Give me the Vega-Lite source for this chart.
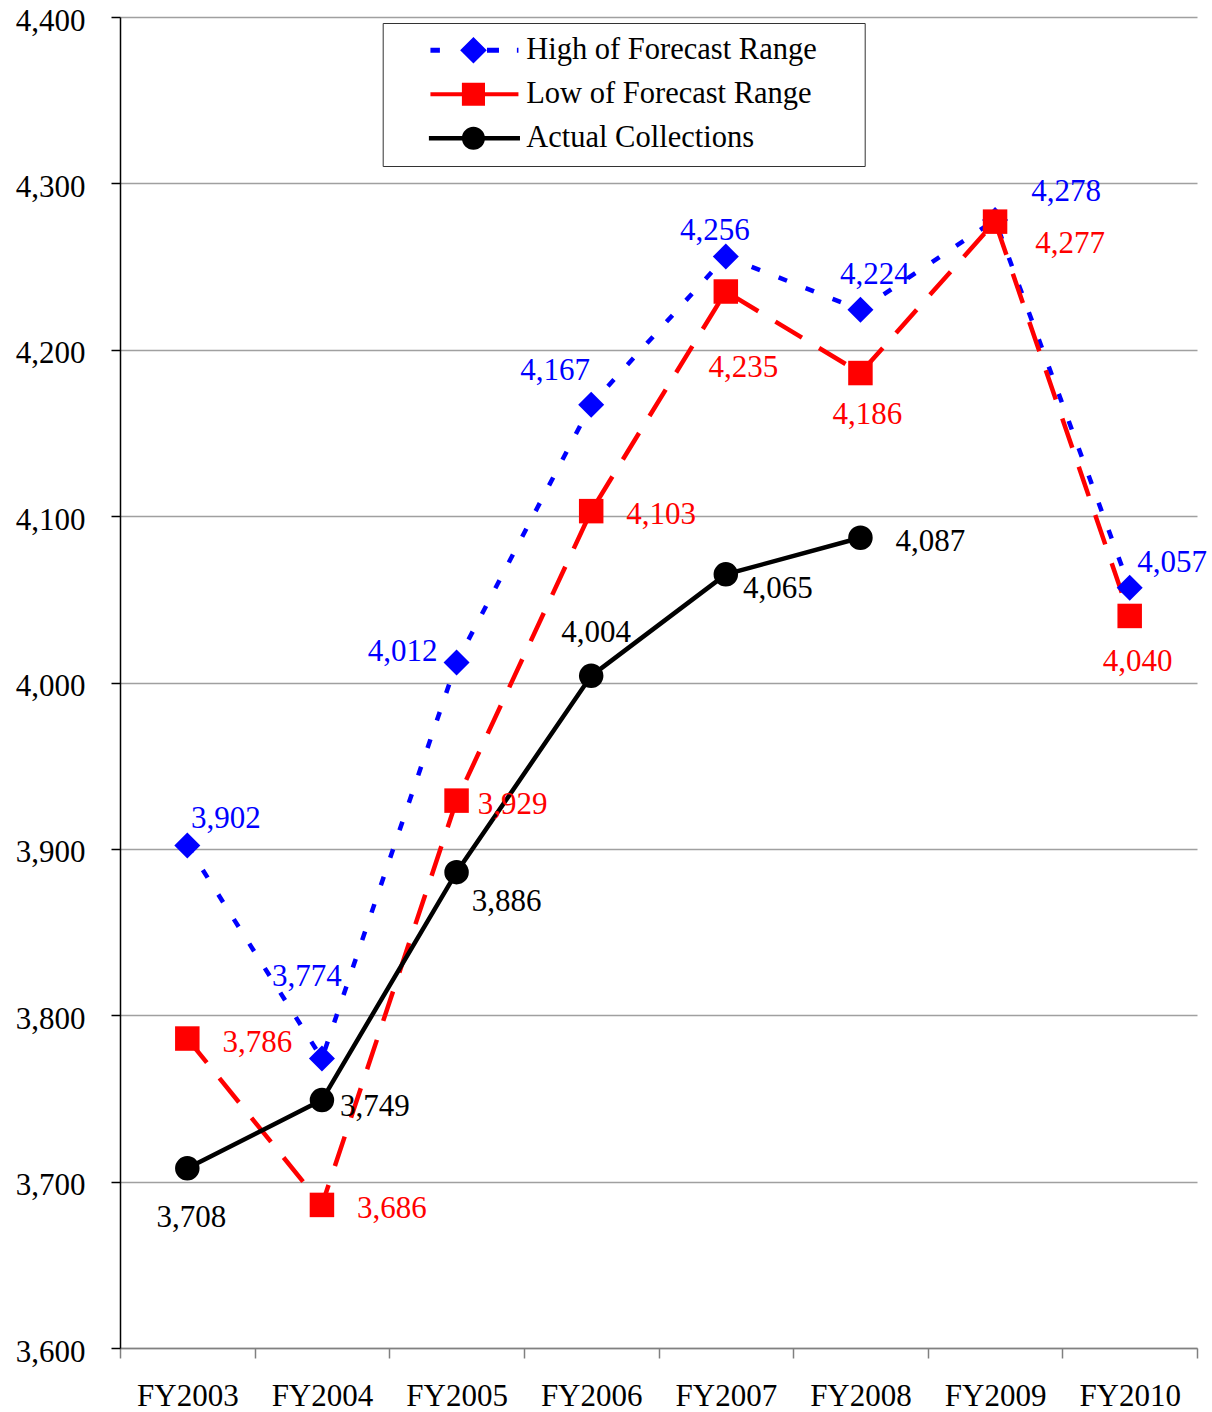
{
  "$schema": "https://vega.github.io/schema/vega-lite/v6.json",
  "width": 1077,
  "height": 1331,
  "autosize": {"type": "none"},
  "padding": {"left": 120, "top": 17, "right": 15, "bottom": 64},
  "background": "white",
  "config": {"view": {"stroke": null}, "font": "Liberation Serif"},
  "data": {
    "values": [
      {"year": "FY2003", "series": "High of Forecast Range", "value": 3902},
      {"year": "FY2004", "series": "High of Forecast Range", "value": 3774},
      {"year": "FY2005", "series": "High of Forecast Range", "value": 4012},
      {"year": "FY2006", "series": "High of Forecast Range", "value": 4167},
      {"year": "FY2007", "series": "High of Forecast Range", "value": 4256},
      {"year": "FY2008", "series": "High of Forecast Range", "value": 4224},
      {"year": "FY2009", "series": "High of Forecast Range", "value": 4278},
      {"year": "FY2010", "series": "High of Forecast Range", "value": 4057},
      {"year": "FY2003", "series": "Low of Forecast Range", "value": 3786},
      {"year": "FY2004", "series": "Low of Forecast Range", "value": 3686},
      {"year": "FY2005", "series": "Low of Forecast Range", "value": 3929},
      {"year": "FY2006", "series": "Low of Forecast Range", "value": 4103},
      {"year": "FY2007", "series": "Low of Forecast Range", "value": 4235},
      {"year": "FY2008", "series": "Low of Forecast Range", "value": 4186},
      {"year": "FY2009", "series": "Low of Forecast Range", "value": 4277},
      {"year": "FY2010", "series": "Low of Forecast Range", "value": 4040},
      {"year": "FY2003", "series": "Actual Collections", "value": 3708},
      {"year": "FY2004", "series": "Actual Collections", "value": 3749},
      {"year": "FY2005", "series": "Actual Collections", "value": 3886},
      {"year": "FY2006", "series": "Actual Collections", "value": 4004},
      {"year": "FY2007", "series": "Actual Collections", "value": 4065},
      {"year": "FY2008", "series": "Actual Collections", "value": 4087}
    ]
  },
  "encoding": {
    "x": {
      "field": "year", "type": "nominal",
      "scale": {"type": "band", "paddingInner": 0, "paddingOuter": 0},
      "axis": {"title": null, "tickBand": "extent", "domainColor": "#808080", "domainWidth": 1.5, "tickColor": "#808080", "tickWidth": 1.5, "tickSize": 10, "labelFont": "Liberation Serif", "labelFontSize": 31, "labelColor": "black", "labelPadding": 23, "labelAngle": 0, "grid": false}
    },
    "y": {
      "field": "value", "type": "quantitative",
      "scale": {"domain": [3600, 4400], "nice": false, "zero": false},
      "axis": {"title": null, "values": [3600, 3700, 3800, 3900, 4000, 4100, 4200, 4300, 4400], "format": ",.0f", "domainColor": "black", "domainWidth": 1.5, "tickColor": "black", "tickWidth": 1.5, "tickSize": 9, "labelFont": "Liberation Serif", "labelFontSize": 31, "labelColor": "black", "labelPadding": 26, "labelOffset": 4, "grid": true, "gridColor": "#A0A0A0", "gridWidth": 1.5}
    }
  },
  "layer": [
    {
      "transform": [{"filter": "datum.series=='High of Forecast Range'"}],
      "mark": {"type": "line", "strokeWidth": 4.5, "color": "#0000FF", "strokeDash": [9, 20]}
    },
    {
      "transform": [{"filter": "datum.series=='Low of Forecast Range'"}],
      "mark": {"type": "line", "strokeWidth": 4.5, "color": "#FF0000", "strokeDash": [31, 20]}
    },
    {
      "transform": [{"filter": "datum.series=='Actual Collections'"}],
      "mark": {"type": "line", "strokeWidth": 4.5, "color": "#000000"}
    },
    {
      "transform": [{"filter": "datum.series=='High of Forecast Range'"}],
      "mark": {"type": "point", "shape": "diamond", "filled": true, "size": 676, "color": "#0000FF", "opacity": 1}
    },
    {
      "transform": [{"filter": "datum.series=='Low of Forecast Range'"}],
      "mark": {"type": "point", "shape": "square", "filled": true, "size": 600, "color": "#FF0000", "opacity": 1}
    },
    {
      "transform": [{"filter": "datum.series=='Actual Collections'"}],
      "mark": {"type": "point", "shape": "circle", "filled": true, "size": 600, "color": "#000000", "opacity": 1}
    },
    {
      "transform": [{"filter": "(datum.series=='Low of Forecast Range' && (datum.year=='FY2003' || datum.year=='FY2004' || datum.year=='FY2006')) || (datum.series=='Actual Collections' && datum.year=='FY2008')"}],
      "mark": {"type": "text", "font": "Liberation Serif", "fontSize": 31, "align": "center", "baseline": "middle", "dx": 70, "dy": 4},
      "encoding": {"text": {"field": "value", "type": "quantitative", "format": ","}, "color": {"condition": [{"test": "datum.series=='High of Forecast Range'", "value": "#0000FF"}, {"test": "datum.series=='Low of Forecast Range'", "value": "#FF0000"}], "value": "#000000"}}
    },
    {
      "transform": [{"filter": "datum.series=='High of Forecast Range' && datum.year=='FY2003'"}],
      "mark": {"type": "text", "font": "Liberation Serif", "fontSize": 31, "align": "center", "baseline": "middle", "dx": 38.5, "dy": -26.5, "color": "#0000FF"},
      "encoding": {"text": {"field": "value", "type": "quantitative", "format": ","}}
    },
    {
      "transform": [{"filter": "datum.series=='High of Forecast Range' && datum.year=='FY2004'"}],
      "mark": {"type": "text", "font": "Liberation Serif", "fontSize": 31, "align": "center", "baseline": "middle", "dx": -15, "dy": -81.5, "color": "#0000FF"},
      "encoding": {"text": {"field": "value", "type": "quantitative", "format": ","}}
    },
    {
      "transform": [{"filter": "datum.series=='High of Forecast Range' && datum.year=='FY2005'"}],
      "mark": {"type": "text", "font": "Liberation Serif", "fontSize": 31, "align": "center", "baseline": "middle", "dx": -54, "dy": -11, "color": "#0000FF"},
      "encoding": {"text": {"field": "value", "type": "quantitative", "format": ","}}
    },
    {
      "transform": [{"filter": "datum.series=='High of Forecast Range' && datum.year=='FY2006'"}],
      "mark": {"type": "text", "font": "Liberation Serif", "fontSize": 31, "align": "center", "baseline": "middle", "dx": -36, "dy": -34, "color": "#0000FF"},
      "encoding": {"text": {"field": "value", "type": "quantitative", "format": ","}}
    },
    {
      "transform": [{"filter": "datum.series=='High of Forecast Range' && datum.year=='FY2007'"}],
      "mark": {"type": "text", "font": "Liberation Serif", "fontSize": 31, "align": "center", "baseline": "middle", "dx": -11, "dy": -25.5, "color": "#0000FF"},
      "encoding": {"text": {"field": "value", "type": "quantitative", "format": ","}}
    },
    {
      "transform": [{"filter": "datum.series=='High of Forecast Range' && datum.year=='FY2008'"}],
      "mark": {"type": "text", "font": "Liberation Serif", "fontSize": 31, "align": "center", "baseline": "middle", "dx": 14.5, "dy": -34.5, "color": "#0000FF"},
      "encoding": {"text": {"field": "value", "type": "quantitative", "format": ","}}
    },
    {
      "transform": [{"filter": "datum.series=='High of Forecast Range' && datum.year=='FY2009'"}],
      "mark": {"type": "text", "font": "Liberation Serif", "fontSize": 31, "align": "center", "baseline": "middle", "dx": 71, "dy": -28, "color": "#0000FF"},
      "encoding": {"text": {"field": "value", "type": "quantitative", "format": ","}}
    },
    {
      "transform": [{"filter": "datum.series=='High of Forecast Range' && datum.year=='FY2010'"}],
      "mark": {"type": "text", "font": "Liberation Serif", "fontSize": 31, "align": "center", "baseline": "middle", "dx": 42.5, "dy": -24.5, "color": "#0000FF"},
      "encoding": {"text": {"field": "value", "type": "quantitative", "format": ","}}
    },
    {
      "transform": [{"filter": "datum.series=='Low of Forecast Range' && datum.year=='FY2005'"}],
      "mark": {"type": "text", "font": "Liberation Serif", "fontSize": 31, "align": "center", "baseline": "middle", "dx": 56, "dy": 4.5, "color": "#FF0000"},
      "encoding": {"text": {"field": "value", "type": "quantitative", "format": ","}}
    },
    {
      "transform": [{"filter": "datum.series=='Low of Forecast Range' && datum.year=='FY2007'"}],
      "mark": {"type": "text", "font": "Liberation Serif", "fontSize": 31, "align": "center", "baseline": "middle", "dx": 17.5, "dy": 76.5, "color": "#FF0000"},
      "encoding": {"text": {"field": "value", "type": "quantitative", "format": ","}}
    },
    {
      "transform": [{"filter": "datum.series=='Low of Forecast Range' && datum.year=='FY2008'"}],
      "mark": {"type": "text", "font": "Liberation Serif", "fontSize": 31, "align": "center", "baseline": "middle", "dx": 7, "dy": 41.5, "color": "#FF0000"},
      "encoding": {"text": {"field": "value", "type": "quantitative", "format": ","}}
    },
    {
      "transform": [{"filter": "datum.series=='Low of Forecast Range' && datum.year=='FY2009'"}],
      "mark": {"type": "text", "font": "Liberation Serif", "fontSize": 31, "align": "center", "baseline": "middle", "dx": 75, "dy": 22, "color": "#FF0000"},
      "encoding": {"text": {"field": "value", "type": "quantitative", "format": ","}}
    },
    {
      "transform": [{"filter": "datum.series=='Low of Forecast Range' && datum.year=='FY2010'"}],
      "mark": {"type": "text", "font": "Liberation Serif", "fontSize": 31, "align": "center", "baseline": "middle", "dx": 8, "dy": 46, "color": "#FF0000"},
      "encoding": {"text": {"field": "value", "type": "quantitative", "format": ","}}
    },
    {
      "transform": [{"filter": "datum.series=='Actual Collections' && datum.year=='FY2003'"}],
      "mark": {"type": "text", "font": "Liberation Serif", "fontSize": 31, "align": "center", "baseline": "middle", "dx": 4, "dy": 49.5, "color": "#000000"},
      "encoding": {"text": {"field": "value", "type": "quantitative", "format": ","}}
    },
    {
      "transform": [{"filter": "datum.series=='Actual Collections' && datum.year=='FY2004'"}],
      "mark": {"type": "text", "font": "Liberation Serif", "fontSize": 31, "align": "center", "baseline": "middle", "dx": 53, "dy": 7, "color": "#000000"},
      "encoding": {"text": {"field": "value", "type": "quantitative", "format": ","}}
    },
    {
      "transform": [{"filter": "datum.series=='Actual Collections' && datum.year=='FY2005'"}],
      "mark": {"type": "text", "font": "Liberation Serif", "fontSize": 31, "align": "center", "baseline": "middle", "dx": 50, "dy": 29.5, "color": "#000000"},
      "encoding": {"text": {"field": "value", "type": "quantitative", "format": ","}}
    },
    {
      "transform": [{"filter": "datum.series=='Actual Collections' && datum.year=='FY2006'"}],
      "mark": {"type": "text", "font": "Liberation Serif", "fontSize": 31, "align": "center", "baseline": "middle", "dx": 5, "dy": -43, "color": "#000000"},
      "encoding": {"text": {"field": "value", "type": "quantitative", "format": ","}}
    },
    {
      "transform": [{"filter": "datum.series=='Actual Collections' && datum.year=='FY2007'"}],
      "mark": {"type": "text", "font": "Liberation Serif", "fontSize": 31, "align": "center", "baseline": "middle", "dx": 52, "dy": 14.5, "color": "#000000"},
      "encoding": {"text": {"field": "value", "type": "quantitative", "format": ","}}
    },
    {
      "mark": {"type": "point", "filled": true, "opacity": 0, "size": 484},
      "encoding": {
        "color": {
          "field": "series", "type": "nominal",
          "scale": {"domain": ["High of Forecast Range", "Low of Forecast Range", "Actual Collections"], "range": ["#0000FF", "#FF0000", "#000000"]},
          "legend": {"title": null, "orient": "none", "legendX": 262.7, "legendY": 6, "padding": 12, "strokeColor": "#333333", "fillColor": "white", "symbolSize": 484, "symbolOpacity": 1, "symbolStrokeWidth": 0, "symbolOffset": 63.5, "labelFont": "Liberation Serif", "labelFontSize": 30.5, "labelColor": "black", "labelOffset": 37.5, "labelLimit": 1000, "rowPadding": 13}
        },
        "shape": {
          "field": "series", "type": "nominal",
          "scale": {
            "domain": ["High of Forecast Range", "Low of Forecast Range", "Actual Collections"],
            "range": [
              "M-3.91,-0.23 L-3.05,-0.23 L-3.05,0.23 L-3.91,0.23 Z M0,-1.21 L1.21,0 L0,1.21 L-1.21,0 Z M1.23,-0.23 L2.32,-0.23 L2.32,0.23 L1.23,0.23 Z M3.95,-0.23 L4.09,-0.23 L4.09,0.23 L3.95,0.23 Z M34.4,0",
              "M-3.91,-0.18 L4.09,-0.18 L4.09,0.18 L-3.91,0.18 Z M-1.05,-1.05 L1.05,-1.05 L1.05,1.05 L-1.05,1.05 Z M34.4,0",
              "M-4.05,-0.2 L4.23,-0.2 L4.23,0.2 L-4.05,0.2 Z M-1.05,0 A1.05,1.05 0 1,1 1.05,0 A1.05,1.05 0 1,1 -1.05,0 Z M34.4,0"
            ]
          },
          "legend": {"title": null, "orient": "none", "legendX": 262.7, "legendY": 6, "padding": 12, "strokeColor": "#333333", "fillColor": "white", "symbolSize": 484, "symbolOpacity": 1, "symbolStrokeWidth": 0, "symbolOffset": 63.5, "labelFont": "Liberation Serif", "labelFontSize": 30.5, "labelColor": "black", "labelOffset": 37.5, "labelLimit": 1000, "rowPadding": 13}
        }
      }
    }
  ]
}
